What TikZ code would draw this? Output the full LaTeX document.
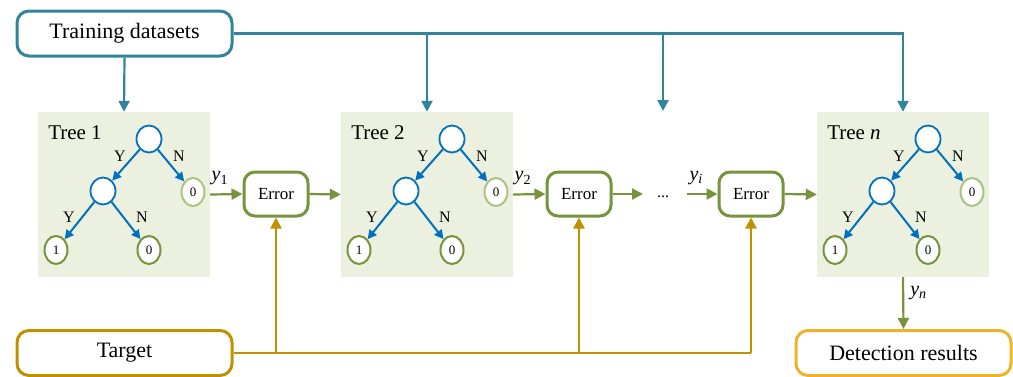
\documentclass[tikz,border=0pt]{standalone}
\usepackage{fontspec}
\setmainfont{Liberation Serif}
\usetikzlibrary{arrows.meta,shapes.geometric}
\definecolor{tealc}{HTML}{31849B}
\definecolor{bluec}{HTML}{0070C0}
\definecolor{greenc}{HTML}{77933C}
\definecolor{greenl}{HTML}{A9C47F}
\definecolor{fillc}{HTML}{EBF1DE}
\definecolor{goldc}{HTML}{BF9000}
\definecolor{orangec}{HTML}{EDB42B}
\tikzset{
  bigbox/.style={draw, rounded corners=12pt, line width=3pt, fill=white, minimum width=215pt, minimum height=45pt, font=\fontsize{22}{24}\selectfont, inner sep=0pt},
  errbox/.style={draw=greenc, rounded corners=11pt, line width=3pt, fill=white, minimum width=64pt, minimum height=44pt, font=\fontsize{17}{19}\selectfont, inner sep=0pt},
  treebox/.style={fill=fillc, minimum width=172pt, minimum height=165pt, inner sep=0pt},
  treelabel/.style={font=\fontsize{21}{23}\selectfont, inner sep=0pt},
  innernode/.style={ellipse, draw=bluec, line width=1.8pt, fill=white, minimum width=25pt, minimum height=27pt, inner sep=0pt},
  leafnode/.style={ellipse, draw=greenc, line width=2pt, fill=white, minimum width=23pt, minimum height=28pt, inner sep=0pt, font=\fontsize{13}{14}\selectfont},
  leaflight/.style={leafnode, draw=greenl},
  tedge/.style={draw=bluec, line width=2pt, -{Triangle[length=9pt,width=9pt]}},
  ynlab/.style={font=\fontsize{16}{17}\selectfont, inner sep=0pt},
  tealarrow/.style={draw=tealc, line width=2.2pt, -{Triangle[length=11pt,width=11pt]}},
  greenarrow/.style={draw=greenc, line width=2.2pt, -{Triangle[length=11pt,width=11pt]}},
  goldline/.style={draw=goldc, line width=2.2pt},
  goldarrow/.style={draw=goldc, line width=2.2pt, -{Triangle[length=11pt,width=11pt]}},
  ylab/.style={font=\fontsize{20}{22}\selectfont, inner sep=0pt},
}
\newcommand\mytree[3]{%
  \node[treebox] (#1) at (#2+86,194.5) {};
  \node[treelabel] (#1lab) at (#2+37,133) {#3};
  \node[innernode] (#1r) at (#2+111,139) {};
  \node[innernode] (#1m) at (#2+65,191) {};
  \node[leaflight] (#1a) at (#2+155,192) {0};
  \node[leafnode] (#1b) at (#2+18,250) {1};
  \node[leafnode] (#1c) at (#2+111,250) {0};
  \draw[tedge] (#1r) -- (#1m);
  \draw[tedge] (#1r) -- (#1a);
  \draw[tedge] (#1m) -- (#1b);
  \draw[tedge] (#1m) -- (#1c);
  \node[ynlab] (#1y1) at (#2+82,156) {Y};
  \node[ynlab] (#1n1) at (#2+141,156) {N};
  \node[ynlab] (#1y2) at (#2+31,217) {Y};
  \node[ynlab] (#1n2) at (#2+104,217) {N};
}
\begin{document}
\begin{tikzpicture}[x=1pt,y=-1pt]
\useasboundingbox (0,0) rectangle (1013,376);
% trees
\mytree{ta}{38}{Tree 1}
\mytree{tb}{341}{Tree 2}
\mytree{tn}{817}{Tree \textit{n}}
% boxes
\node[bigbox, draw=tealc] (train) at (124.5,33.5) {Training datasets};
\node[bigbox, draw=goldc] (target) at (124.5,353) {Target};
\node[bigbox, draw=orangec] (detect) at (903.5,353) {Detection results};
\node[errbox] (e1) at (276,194) {Error};
\node[errbox] (e2) at (579,194) {Error};
\node[errbox] (e3) at (751,194) {Error};
\node[font=\fontsize{16}{17}\selectfont, inner sep=0pt] (dots) at (663,197) {...};
\coordinate (dtop) at (663,111);
\coordinate (dl) at (643,194);
\coordinate (dr) at (687,194);
% top connectors
\draw[tealarrow] (train.south) -- (ta.north);
\draw[tealarrow] (train.east) -| (tn.north);
\draw[tealarrow] (train.east -| tb.north) -- (tb.north);
\draw[tealarrow] (train.east -| dtop) -- (dtop);
% green chain
\draw[greenarrow] (ta.east) -- node[ylab, above, pos=0.3, yshift=8pt] (l1) {\textit{y}\textsubscript{1}} (e1.west);
\draw[greenarrow] (e1.east) -- (tb.west);
\draw[greenarrow] (tb.east) -- node[ylab, above, pos=0.3, yshift=8pt] (l2) {\textit{y}\textsubscript{2}} (e2.west);
\draw[greenarrow] (e2.east) -- (dl);
\draw[greenarrow] (dr) -- node[ylab, above, pos=0.3, yshift=8pt] (li) {\textit{y}\textsubscript{\textit{i}}} (e3.west);
\draw[greenarrow] (e3.east) -- (tn.west);
\draw[greenarrow] (tn.south) -- node[ylab, right, pos=0.3, xshift=6pt] (ln) {\textit{y}\textsubscript{\textit{n}}} (detect.north);
% target connectors
\draw[goldline] (target.east) -- (target.east -| e3.south);
\draw[goldarrow] (target.east -| e1.south) -- (e1.south);
\draw[goldarrow] (target.east -| e2.south) -- (e2.south);
\draw[goldarrow] (target.east -| e3.south) -- (e3.south);
\end{tikzpicture}
\end{document}
